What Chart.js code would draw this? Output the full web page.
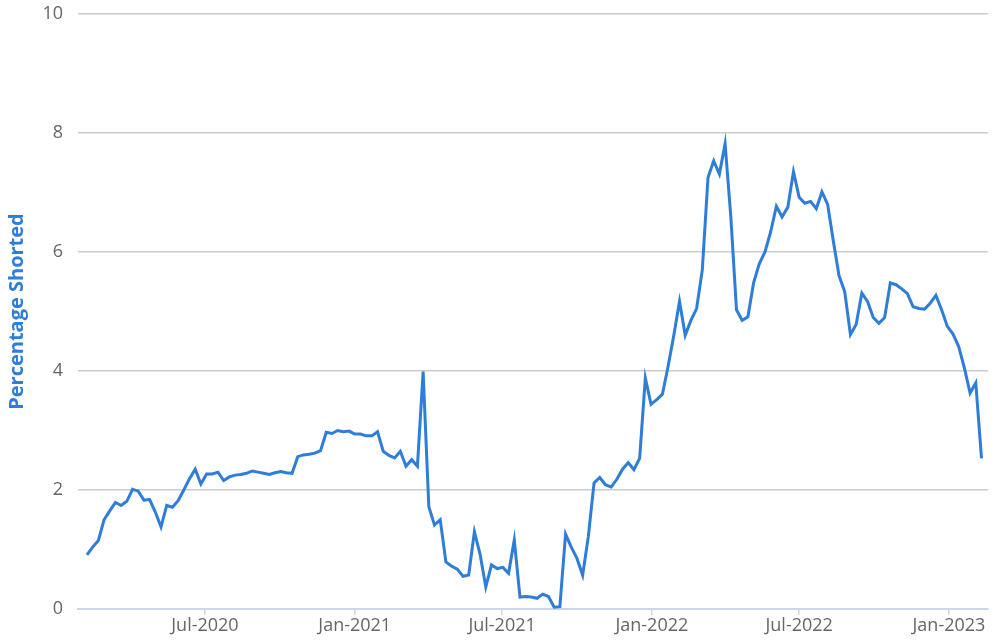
<!DOCTYPE html>
<html>
<head>
<meta charset="utf-8">
<script src="https://cdn.jsdelivr.net/npm/chart.js@4/dist/chart.umd.min.js"></script>
<style>
  html, body { margin: 0; padding: 0; background: #fff; }
  #wrap { width: 1000px; height: 641px; position: relative; }
</style>
</head>
<body>
<div id="wrap"><canvas id="chart"></canvas></div>
<script>
// weekly short interest readings, first reading on 2020-02-07
const firstWeek = '2020-02-07';
const shortedPct = [
  0.91, 1.04, 1.15, 1.50, 1.65, 1.79, 1.74, 1.81, 2.01, 1.98,
  1.83, 1.84, 1.63, 1.38, 1.74, 1.71, 1.82, 2.00, 2.19, 2.35,
  2.10, 2.27, 2.27, 2.30, 2.16, 2.22, 2.25, 2.26, 2.28, 2.32,
  2.30, 2.28, 2.26, 2.29, 2.31, 2.29, 2.28, 2.56, 2.59, 2.60,
  2.62, 2.66, 2.97, 2.95, 3.00, 2.98, 2.99, 2.94, 2.94, 2.91,
  2.91, 2.98, 2.65, 2.58, 2.54, 2.65, 2.40, 2.51, 2.40, 3.99,
  1.72, 1.41, 1.50, 0.79, 0.72, 0.67, 0.55, 0.57, 1.30, 0.92,
  0.37, 0.74, 0.68, 0.70, 0.60, 1.16, 0.20, 0.21, 0.20, 0.18,
  0.25, 0.21, 0.03, 0.04, 1.26, 1.04, 0.85, 0.57, 1.22, 2.12,
  2.21, 2.09, 2.05, 2.18, 2.35, 2.46, 2.34, 2.53, 3.88, 3.44,
  3.52, 3.61, 4.08, 4.60, 5.17, 4.60, 4.85, 5.05, 5.70, 7.25,
  7.53, 7.31, 7.82, 6.60, 5.03, 4.85, 4.91, 5.48, 5.80, 6.00,
  6.34, 6.77, 6.59, 6.75, 7.35, 6.92, 6.82, 6.85, 6.73, 7.01,
  6.80, 6.18, 5.60, 5.33, 4.61, 4.78, 5.31, 5.17, 4.90, 4.80,
  4.90, 5.48, 5.45, 5.38, 5.30, 5.08, 5.05, 5.04, 5.14, 5.27,
  5.03, 4.75, 4.62, 4.41, 4.05, 3.63, 3.80, 2.53
];

const tickDates = ['2020-07-01', '2021-01-01', '2021-07-01', '2022-01-01', '2022-07-01', '2023-01-01'];
const tickLabels = ['Jul-2020', 'Jan-2021', 'Jul-2021', 'Jan-2022', 'Jul-2022', 'Jan-2023'];
const yTicks = [0, 2, 4, 6, 8, 10];
const axisStart = '2020-01-27';
const axisEnd = '2023-02-18';

const toDay = s => Date.parse(s + 'T00:00:00Z') / 864e5;
const day0 = toDay(firstWeek);
const points = shortedPct.map((v, i) => ({ x: day0 + i * 7, y: v }));

const BLUE = '#2e7dd8';
const FONT = '"Open Sans", "Noto Sans", sans-serif';

new Chart(document.getElementById('chart'), {
  type: 'line',
  data: {
    datasets: [{
      label: 'Percentage Shorted',
      data: points,
      borderColor: BLUE,
      borderWidth: 3,
      pointRadius: 0,
      tension: 0,
      fill: false
    }]
  },
  options: {
    responsive: true, maintainAspectRatio: false, animation: false,
    layout: { padding: { top: 14, right: 12, left: 0, bottom: 0 } },
    plugins: { legend: { display: false }, tooltip: { enabled: false } },
    scales: {
      x: {
        type: 'linear',
        min: toDay(axisStart), max: toDay(axisEnd),
        afterBuildTicks: s => { s.ticks = tickDates.map(d => ({ value: toDay(d) })); },
        afterFit: s => { s.height = 32; s.paddingLeft = 0; s.paddingRight = 0; },
        grid: { drawOnChartArea: false, drawTicks: true, tickLength: 6, color: '#ccd6eb', lineWidth: 1.5 },
        border: { display: true, color: '#ccd6eb', width: 2 },
        ticks: {
          autoSkip: false, maxRotation: 0, padding: 0,
          color: '#666666', font: { family: FONT, size: 18 },
          callback: v => tickLabels[tickDates.findIndex(d => toDay(d) === v)]
        }
      },
      y: {
        min: 0, max: 10,
        afterBuildTicks: s => { s.ticks = yTicks.map(v => ({ value: v })); },
        afterFit: s => { s.width = 78; s.paddingTop = 0; s.paddingBottom = 0; },
        grid: {
          color: c => c.tick.value === 0 ? 'rgba(0,0,0,0)' : '#cccccc',
          lineWidth: 1.5, drawTicks: false
        },
        border: { display: false },
        ticks: { padding: 15, color: '#666666', font: { family: FONT, size: 18 } },
        title: {
          display: true, text: 'Percentage Shorted', color: BLUE,
          font: { family: FONT, size: 20, weight: 'bold' },
          padding: { top: 5, bottom: 0 }
        }
      }
    }
  }
});
</script>
</body>
</html>
